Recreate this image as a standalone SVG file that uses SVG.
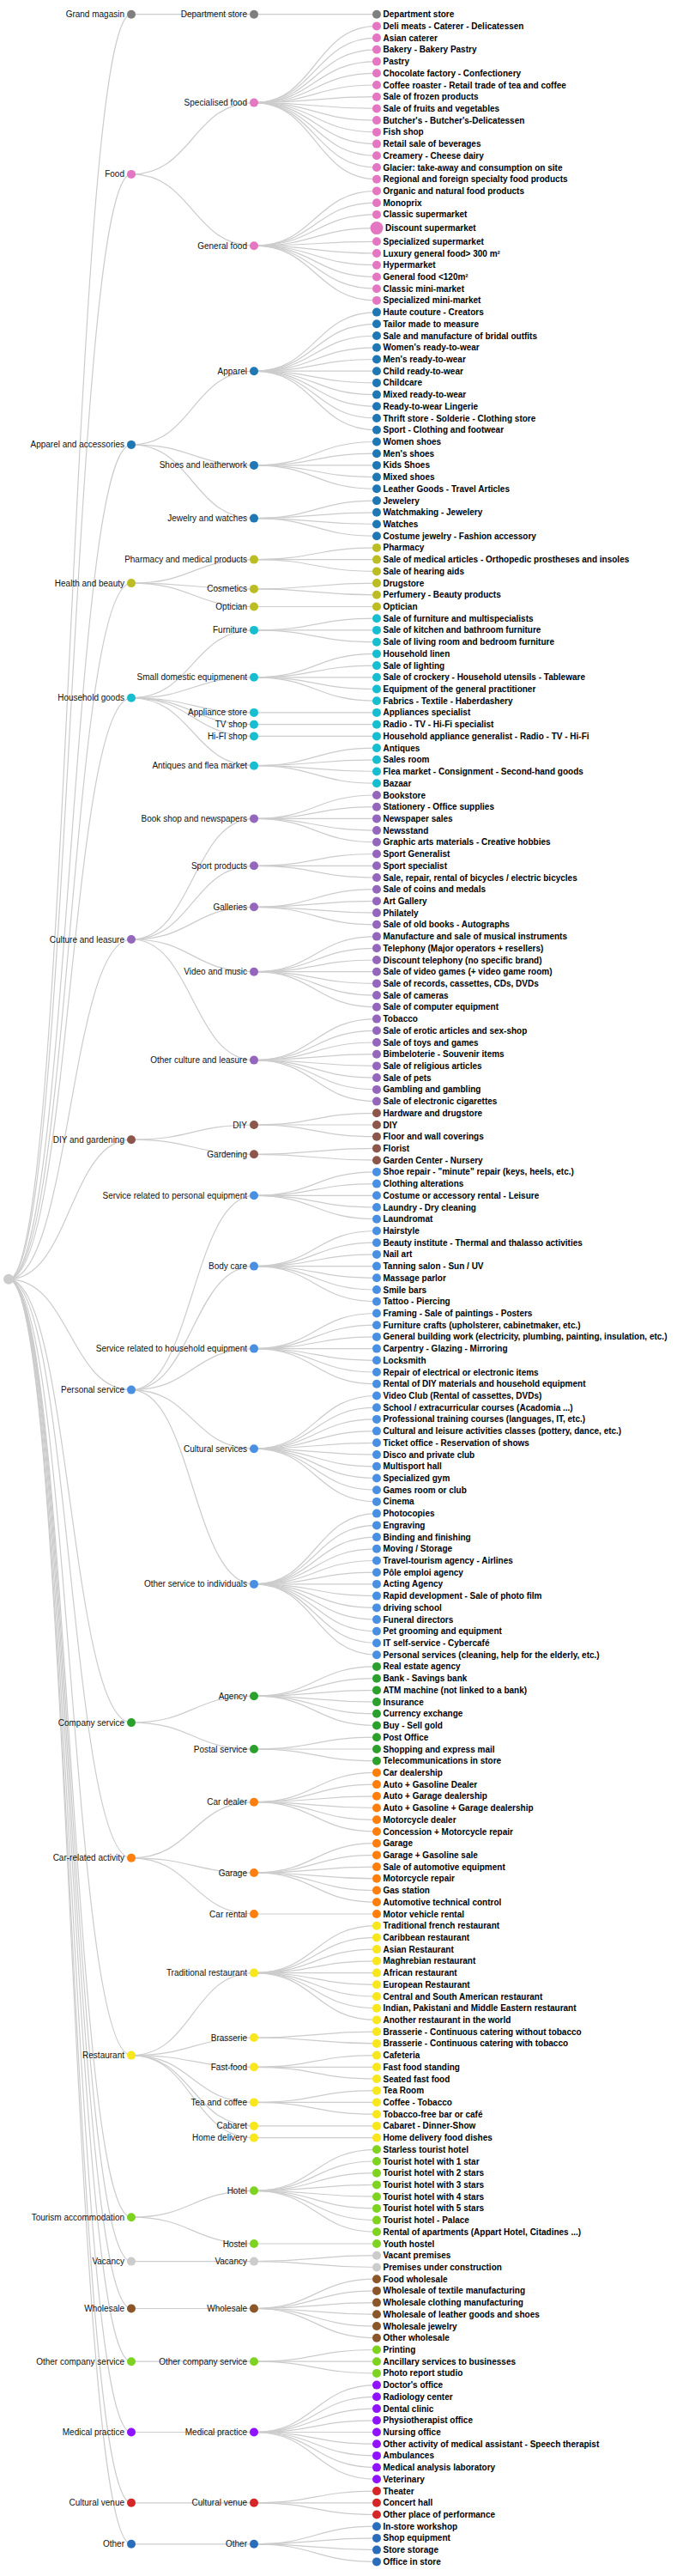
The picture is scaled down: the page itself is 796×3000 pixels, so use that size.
<svg xmlns="http://www.w3.org/2000/svg" width="796" height="3000" viewBox="0 0 796 3000">
<style>
.link{fill:none;stroke:#ccc;stroke-width:1.2}
text{font-family:"Liberation Sans",Arial,sans-serif;font-size:10px;fill:#111}
.in text{text-anchor:end}
.lf text{font-weight:bold;fill:#000}
.root circle{fill:#ccc}
.c0 circle{fill:#7f7f7f}.c1 circle{fill:#e377c2}.c2 circle{fill:#1f77b4}.c3 circle{fill:#bcbd22}
.c4 circle{fill:#17becf}.c5 circle{fill:#9467bd}.c6 circle{fill:#8c564b}.c7 circle{fill:#4a90e2}
.c8 circle{fill:#2ca02c}.c9 circle{fill:#ff7f0e}.c10 circle{fill:#f8e71c}.c11 circle{fill:#7ed321}
.c12 circle{fill:#ccc}.c13 circle{fill:#8b572a}.c14 circle{fill:#7ed321}.c15 circle{fill:#9013fe}
.c16 circle{fill:#d62728}.c17 circle{fill:#2a6ebb}
</style>
<g id="links">
<path class="link" d="M153,16.7C81.5,16.7 81.5,1489.8 10,1489.8"/>
<path class="link" d="M153,202.9C81.5,202.9 81.5,1489.8 10,1489.8"/>
<path class="link" d="M153,517.9C81.5,517.9 81.5,1489.8 10,1489.8"/>
<path class="link" d="M153,679.1C81.5,679.1 81.5,1489.8 10,1489.8"/>
<path class="link" d="M153,812.8C81.5,812.8 81.5,1489.8 10,1489.8"/>
<path class="link" d="M153,1094C81.5,1094 81.5,1489.8 10,1489.8"/>
<path class="link" d="M153,1327.2C81.5,1327.2 81.5,1489.8 10,1489.8"/>
<path class="link" d="M153,1618.6C81.5,1618.6 81.5,1489.8 10,1489.8"/>
<path class="link" d="M153,2006.1C81.5,2006.1 81.5,1489.8 10,1489.8"/>
<path class="link" d="M153,2163.8C81.5,2163.8 81.5,1489.8 10,1489.8"/>
<path class="link" d="M153,2393.6C81.5,2393.6 81.5,1489.8 10,1489.8"/>
<path class="link" d="M153,2582.2C81.5,2582.2 81.5,1489.8 10,1489.8"/>
<path class="link" d="M153,2633.6C81.5,2633.6 81.5,1489.8 10,1489.8"/>
<path class="link" d="M153,2688.5C81.5,2688.5 81.5,1489.8 10,1489.8"/>
<path class="link" d="M153,2750.2C81.5,2750.2 81.5,1489.8 10,1489.8"/>
<path class="link" d="M153,2832.5C81.5,2832.5 81.5,1489.8 10,1489.8"/>
<path class="link" d="M153,2914.8C81.5,2914.8 81.5,1489.8 10,1489.8"/>
<path class="link" d="M153,2962.8C81.5,2962.8 81.5,1489.8 10,1489.8"/>
<path class="link" d="M296,16.7C224.5,16.7 224.5,16.7 153,16.7"/>
<path class="link" d="M296,119.6C224.5,119.6 224.5,202.9 153,202.9"/>
<path class="link" d="M296,286.2C224.5,286.2 224.5,202.9 153,202.9"/>
<path class="link" d="M296,432.2C224.5,432.2 224.5,517.9 153,517.9"/>
<path class="link" d="M296,541.9C224.5,541.9 224.5,517.9 153,517.9"/>
<path class="link" d="M296,603.6C224.5,603.6 224.5,517.9 153,517.9"/>
<path class="link" d="M296,651.6C224.5,651.6 224.5,679.1 153,679.1"/>
<path class="link" d="M296,685.9C224.5,685.9 224.5,679.1 153,679.1"/>
<path class="link" d="M296,706.5C224.5,706.5 224.5,679.1 153,679.1"/>
<path class="link" d="M296,733.9C224.5,733.9 224.5,812.8 153,812.8"/>
<path class="link" d="M296,788.8C224.5,788.8 224.5,812.8 153,812.8"/>
<path class="link" d="M296,829.9C224.5,829.9 224.5,812.8 153,812.8"/>
<path class="link" d="M296,843.7C224.5,843.7 224.5,812.8 153,812.8"/>
<path class="link" d="M296,857.4C224.5,857.4 224.5,812.8 153,812.8"/>
<path class="link" d="M296,891.7C224.5,891.7 224.5,812.8 153,812.8"/>
<path class="link" d="M296,953.4C224.5,953.4 224.5,1094 153,1094"/>
<path class="link" d="M296,1008.3C224.5,1008.3 224.5,1094 153,1094"/>
<path class="link" d="M296,1056.3C224.5,1056.3 224.5,1094 153,1094"/>
<path class="link" d="M296,1131.7C224.5,1131.7 224.5,1094 153,1094"/>
<path class="link" d="M296,1234.6C224.5,1234.6 224.5,1094 153,1094"/>
<path class="link" d="M296,1310C224.5,1310 224.5,1327.2 153,1327.2"/>
<path class="link" d="M296,1344.3C224.5,1344.3 224.5,1327.2 153,1327.2"/>
<path class="link" d="M296,1392.3C224.5,1392.3 224.5,1618.6 153,1618.6"/>
<path class="link" d="M296,1474.6C224.5,1474.6 224.5,1618.6 153,1618.6"/>
<path class="link" d="M296,1570.6C224.5,1570.6 224.5,1618.6 153,1618.6"/>
<path class="link" d="M296,1687.2C224.5,1687.2 224.5,1618.6 153,1618.6"/>
<path class="link" d="M296,1844.9C224.5,1844.9 224.5,1618.6 153,1618.6"/>
<path class="link" d="M296,1975.2C224.5,1975.2 224.5,2006.1 153,2006.1"/>
<path class="link" d="M296,2037C224.5,2037 224.5,2006.1 153,2006.1"/>
<path class="link" d="M296,2098.7C224.5,2098.7 224.5,2163.8 153,2163.8"/>
<path class="link" d="M296,2181C224.5,2181 224.5,2163.8 153,2163.8"/>
<path class="link" d="M296,2229C224.5,2229 224.5,2163.8 153,2163.8"/>
<path class="link" d="M296,2297.6C224.5,2297.6 224.5,2393.6 153,2393.6"/>
<path class="link" d="M296,2373C224.5,2373 224.5,2393.6 153,2393.6"/>
<path class="link" d="M296,2407.3C224.5,2407.3 224.5,2393.6 153,2393.6"/>
<path class="link" d="M296,2448.4C224.5,2448.4 224.5,2393.6 153,2393.6"/>
<path class="link" d="M296,2475.9C224.5,2475.9 224.5,2393.6 153,2393.6"/>
<path class="link" d="M296,2489.6C224.5,2489.6 224.5,2393.6 153,2393.6"/>
<path class="link" d="M296,2551.3C224.5,2551.3 224.5,2582.2 153,2582.2"/>
<path class="link" d="M296,2613C224.5,2613 224.5,2582.2 153,2582.2"/>
<path class="link" d="M296,2633.6C224.5,2633.6 224.5,2633.6 153,2633.6"/>
<path class="link" d="M296,2688.5C224.5,2688.5 224.5,2688.5 153,2688.5"/>
<path class="link" d="M296,2750.2C224.5,2750.2 224.5,2750.2 153,2750.2"/>
<path class="link" d="M296,2832.5C224.5,2832.5 224.5,2832.5 153,2832.5"/>
<path class="link" d="M296,2914.8C224.5,2914.8 224.5,2914.8 153,2914.8"/>
<path class="link" d="M296,2962.8C224.5,2962.8 224.5,2962.8 153,2962.8"/>
<path class="link" d="M439,16.7C367.5,16.7 367.5,16.7 296,16.7"/>
<path class="link" d="M439,30.4C367.5,30.4 367.5,119.6 296,119.6"/>
<path class="link" d="M439,44.1C367.5,44.1 367.5,119.6 296,119.6"/>
<path class="link" d="M439,57.8C367.5,57.8 367.5,119.6 296,119.6"/>
<path class="link" d="M439,71.6C367.5,71.6 367.5,119.6 296,119.6"/>
<path class="link" d="M439,85.3C367.5,85.3 367.5,119.6 296,119.6"/>
<path class="link" d="M439,99C367.5,99 367.5,119.6 296,119.6"/>
<path class="link" d="M439,112.7C367.5,112.7 367.5,119.6 296,119.6"/>
<path class="link" d="M439,126.4C367.5,126.4 367.5,119.6 296,119.6"/>
<path class="link" d="M439,140.1C367.5,140.1 367.5,119.6 296,119.6"/>
<path class="link" d="M439,153.9C367.5,153.9 367.5,119.6 296,119.6"/>
<path class="link" d="M439,167.6C367.5,167.6 367.5,119.6 296,119.6"/>
<path class="link" d="M439,181.3C367.5,181.3 367.5,119.6 296,119.6"/>
<path class="link" d="M439,195C367.5,195 367.5,119.6 296,119.6"/>
<path class="link" d="M439,208.7C367.5,208.7 367.5,119.6 296,119.6"/>
<path class="link" d="M439,222.4C367.5,222.4 367.5,286.2 296,286.2"/>
<path class="link" d="M439,236.2C367.5,236.2 367.5,286.2 296,286.2"/>
<path class="link" d="M439,249.9C367.5,249.9 367.5,286.2 296,286.2"/>
<path class="link" d="M439,265.6C367.5,265.6 367.5,286.2 296,286.2"/>
<path class="link" d="M439,281.3C367.5,281.3 367.5,286.2 296,286.2"/>
<path class="link" d="M439,295C367.5,295 367.5,286.2 296,286.2"/>
<path class="link" d="M439,308.7C367.5,308.7 367.5,286.2 296,286.2"/>
<path class="link" d="M439,322.5C367.5,322.5 367.5,286.2 296,286.2"/>
<path class="link" d="M439,336.2C367.5,336.2 367.5,286.2 296,286.2"/>
<path class="link" d="M439,349.9C367.5,349.9 367.5,286.2 296,286.2"/>
<path class="link" d="M439,363.6C367.5,363.6 367.5,432.2 296,432.2"/>
<path class="link" d="M439,377.3C367.5,377.3 367.5,432.2 296,432.2"/>
<path class="link" d="M439,391C367.5,391 367.5,432.2 296,432.2"/>
<path class="link" d="M439,404.8C367.5,404.8 367.5,432.2 296,432.2"/>
<path class="link" d="M439,418.5C367.5,418.5 367.5,432.2 296,432.2"/>
<path class="link" d="M439,432.2C367.5,432.2 367.5,432.2 296,432.2"/>
<path class="link" d="M439,445.9C367.5,445.9 367.5,432.2 296,432.2"/>
<path class="link" d="M439,459.6C367.5,459.6 367.5,432.2 296,432.2"/>
<path class="link" d="M439,473.3C367.5,473.3 367.5,432.2 296,432.2"/>
<path class="link" d="M439,487C367.5,487 367.5,432.2 296,432.2"/>
<path class="link" d="M439,500.8C367.5,500.8 367.5,432.2 296,432.2"/>
<path class="link" d="M439,514.5C367.5,514.5 367.5,541.9 296,541.9"/>
<path class="link" d="M439,528.2C367.5,528.2 367.5,541.9 296,541.9"/>
<path class="link" d="M439,541.9C367.5,541.9 367.5,541.9 296,541.9"/>
<path class="link" d="M439,555.6C367.5,555.6 367.5,541.9 296,541.9"/>
<path class="link" d="M439,569.3C367.5,569.3 367.5,541.9 296,541.9"/>
<path class="link" d="M439,583.1C367.5,583.1 367.5,603.6 296,603.6"/>
<path class="link" d="M439,596.8C367.5,596.8 367.5,603.6 296,603.6"/>
<path class="link" d="M439,610.5C367.5,610.5 367.5,603.6 296,603.6"/>
<path class="link" d="M439,624.2C367.5,624.2 367.5,603.6 296,603.6"/>
<path class="link" d="M439,637.9C367.5,637.9 367.5,651.6 296,651.6"/>
<path class="link" d="M439,651.6C367.5,651.6 367.5,651.6 296,651.6"/>
<path class="link" d="M439,665.4C367.5,665.4 367.5,651.6 296,651.6"/>
<path class="link" d="M439,679.1C367.5,679.1 367.5,685.9 296,685.9"/>
<path class="link" d="M439,692.8C367.5,692.8 367.5,685.9 296,685.9"/>
<path class="link" d="M439,706.5C367.5,706.5 367.5,706.5 296,706.5"/>
<path class="link" d="M439,720.2C367.5,720.2 367.5,733.9 296,733.9"/>
<path class="link" d="M439,733.9C367.5,733.9 367.5,733.9 296,733.9"/>
<path class="link" d="M439,747.7C367.5,747.7 367.5,733.9 296,733.9"/>
<path class="link" d="M439,761.4C367.5,761.4 367.5,788.8 296,788.8"/>
<path class="link" d="M439,775.1C367.5,775.1 367.5,788.8 296,788.8"/>
<path class="link" d="M439,788.8C367.5,788.8 367.5,788.8 296,788.8"/>
<path class="link" d="M439,802.5C367.5,802.5 367.5,788.8 296,788.8"/>
<path class="link" d="M439,816.2C367.5,816.2 367.5,788.8 296,788.8"/>
<path class="link" d="M439,829.9C367.5,829.9 367.5,829.9 296,829.9"/>
<path class="link" d="M439,843.7C367.5,843.7 367.5,843.7 296,843.7"/>
<path class="link" d="M439,857.4C367.5,857.4 367.5,857.4 296,857.4"/>
<path class="link" d="M439,871.1C367.5,871.1 367.5,891.7 296,891.7"/>
<path class="link" d="M439,884.8C367.5,884.8 367.5,891.7 296,891.7"/>
<path class="link" d="M439,898.5C367.5,898.5 367.5,891.7 296,891.7"/>
<path class="link" d="M439,912.2C367.5,912.2 367.5,891.7 296,891.7"/>
<path class="link" d="M439,926C367.5,926 367.5,953.4 296,953.4"/>
<path class="link" d="M439,939.7C367.5,939.7 367.5,953.4 296,953.4"/>
<path class="link" d="M439,953.4C367.5,953.4 367.5,953.4 296,953.4"/>
<path class="link" d="M439,967.1C367.5,967.1 367.5,953.4 296,953.4"/>
<path class="link" d="M439,980.8C367.5,980.8 367.5,953.4 296,953.4"/>
<path class="link" d="M439,994.5C367.5,994.5 367.5,1008.3 296,1008.3"/>
<path class="link" d="M439,1008.3C367.5,1008.3 367.5,1008.3 296,1008.3"/>
<path class="link" d="M439,1022C367.5,1022 367.5,1008.3 296,1008.3"/>
<path class="link" d="M439,1035.7C367.5,1035.7 367.5,1056.3 296,1056.3"/>
<path class="link" d="M439,1049.4C367.5,1049.4 367.5,1056.3 296,1056.3"/>
<path class="link" d="M439,1063.1C367.5,1063.1 367.5,1056.3 296,1056.3"/>
<path class="link" d="M439,1076.8C367.5,1076.8 367.5,1056.3 296,1056.3"/>
<path class="link" d="M439,1090.6C367.5,1090.6 367.5,1131.7 296,1131.7"/>
<path class="link" d="M439,1104.3C367.5,1104.3 367.5,1131.7 296,1131.7"/>
<path class="link" d="M439,1118C367.5,1118 367.5,1131.7 296,1131.7"/>
<path class="link" d="M439,1131.7C367.5,1131.7 367.5,1131.7 296,1131.7"/>
<path class="link" d="M439,1145.4C367.5,1145.4 367.5,1131.7 296,1131.7"/>
<path class="link" d="M439,1159.1C367.5,1159.1 367.5,1131.7 296,1131.7"/>
<path class="link" d="M439,1172.8C367.5,1172.8 367.5,1131.7 296,1131.7"/>
<path class="link" d="M439,1186.6C367.5,1186.6 367.5,1234.6 296,1234.6"/>
<path class="link" d="M439,1200.3C367.5,1200.3 367.5,1234.6 296,1234.6"/>
<path class="link" d="M439,1214C367.5,1214 367.5,1234.6 296,1234.6"/>
<path class="link" d="M439,1227.7C367.5,1227.7 367.5,1234.6 296,1234.6"/>
<path class="link" d="M439,1241.4C367.5,1241.4 367.5,1234.6 296,1234.6"/>
<path class="link" d="M439,1255.1C367.5,1255.1 367.5,1234.6 296,1234.6"/>
<path class="link" d="M439,1268.9C367.5,1268.9 367.5,1234.6 296,1234.6"/>
<path class="link" d="M439,1282.6C367.5,1282.6 367.5,1234.6 296,1234.6"/>
<path class="link" d="M439,1296.3C367.5,1296.3 367.5,1310 296,1310"/>
<path class="link" d="M439,1310C367.5,1310 367.5,1310 296,1310"/>
<path class="link" d="M439,1323.7C367.5,1323.7 367.5,1310 296,1310"/>
<path class="link" d="M439,1337.4C367.5,1337.4 367.5,1344.3 296,1344.3"/>
<path class="link" d="M439,1351.2C367.5,1351.2 367.5,1344.3 296,1344.3"/>
<path class="link" d="M439,1364.9C367.5,1364.9 367.5,1392.3 296,1392.3"/>
<path class="link" d="M439,1378.6C367.5,1378.6 367.5,1392.3 296,1392.3"/>
<path class="link" d="M439,1392.3C367.5,1392.3 367.5,1392.3 296,1392.3"/>
<path class="link" d="M439,1406C367.5,1406 367.5,1392.3 296,1392.3"/>
<path class="link" d="M439,1419.7C367.5,1419.7 367.5,1392.3 296,1392.3"/>
<path class="link" d="M439,1433.5C367.5,1433.5 367.5,1474.6 296,1474.6"/>
<path class="link" d="M439,1447.2C367.5,1447.2 367.5,1474.6 296,1474.6"/>
<path class="link" d="M439,1460.9C367.5,1460.9 367.5,1474.6 296,1474.6"/>
<path class="link" d="M439,1474.6C367.5,1474.6 367.5,1474.6 296,1474.6"/>
<path class="link" d="M439,1488.3C367.5,1488.3 367.5,1474.6 296,1474.6"/>
<path class="link" d="M439,1502C367.5,1502 367.5,1474.6 296,1474.6"/>
<path class="link" d="M439,1515.7C367.5,1515.7 367.5,1474.6 296,1474.6"/>
<path class="link" d="M439,1529.5C367.5,1529.5 367.5,1570.6 296,1570.6"/>
<path class="link" d="M439,1543.2C367.5,1543.2 367.5,1570.6 296,1570.6"/>
<path class="link" d="M439,1556.9C367.5,1556.9 367.5,1570.6 296,1570.6"/>
<path class="link" d="M439,1570.6C367.5,1570.6 367.5,1570.6 296,1570.6"/>
<path class="link" d="M439,1584.3C367.5,1584.3 367.5,1570.6 296,1570.6"/>
<path class="link" d="M439,1598C367.5,1598 367.5,1570.6 296,1570.6"/>
<path class="link" d="M439,1611.8C367.5,1611.8 367.5,1570.6 296,1570.6"/>
<path class="link" d="M439,1625.5C367.5,1625.5 367.5,1687.2 296,1687.2"/>
<path class="link" d="M439,1639.2C367.5,1639.2 367.5,1687.2 296,1687.2"/>
<path class="link" d="M439,1652.9C367.5,1652.9 367.5,1687.2 296,1687.2"/>
<path class="link" d="M439,1666.6C367.5,1666.6 367.5,1687.2 296,1687.2"/>
<path class="link" d="M439,1680.3C367.5,1680.3 367.5,1687.2 296,1687.2"/>
<path class="link" d="M439,1694.1C367.5,1694.1 367.5,1687.2 296,1687.2"/>
<path class="link" d="M439,1707.8C367.5,1707.8 367.5,1687.2 296,1687.2"/>
<path class="link" d="M439,1721.5C367.5,1721.5 367.5,1687.2 296,1687.2"/>
<path class="link" d="M439,1735.2C367.5,1735.2 367.5,1687.2 296,1687.2"/>
<path class="link" d="M439,1748.9C367.5,1748.9 367.5,1687.2 296,1687.2"/>
<path class="link" d="M439,1762.6C367.5,1762.6 367.5,1844.9 296,1844.9"/>
<path class="link" d="M439,1776.4C367.5,1776.4 367.5,1844.9 296,1844.9"/>
<path class="link" d="M439,1790.1C367.5,1790.1 367.5,1844.9 296,1844.9"/>
<path class="link" d="M439,1803.8C367.5,1803.8 367.5,1844.9 296,1844.9"/>
<path class="link" d="M439,1817.5C367.5,1817.5 367.5,1844.9 296,1844.9"/>
<path class="link" d="M439,1831.2C367.5,1831.2 367.5,1844.9 296,1844.9"/>
<path class="link" d="M439,1844.9C367.5,1844.9 367.5,1844.9 296,1844.9"/>
<path class="link" d="M439,1858.6C367.5,1858.6 367.5,1844.9 296,1844.9"/>
<path class="link" d="M439,1872.4C367.5,1872.4 367.5,1844.9 296,1844.9"/>
<path class="link" d="M439,1886.1C367.5,1886.1 367.5,1844.9 296,1844.9"/>
<path class="link" d="M439,1899.8C367.5,1899.8 367.5,1844.9 296,1844.9"/>
<path class="link" d="M439,1913.5C367.5,1913.5 367.5,1844.9 296,1844.9"/>
<path class="link" d="M439,1927.2C367.5,1927.2 367.5,1844.9 296,1844.9"/>
<path class="link" d="M439,1940.9C367.5,1940.9 367.5,1975.2 296,1975.2"/>
<path class="link" d="M439,1954.7C367.5,1954.7 367.5,1975.2 296,1975.2"/>
<path class="link" d="M439,1968.4C367.5,1968.4 367.5,1975.2 296,1975.2"/>
<path class="link" d="M439,1982.1C367.5,1982.1 367.5,1975.2 296,1975.2"/>
<path class="link" d="M439,1995.8C367.5,1995.8 367.5,1975.2 296,1975.2"/>
<path class="link" d="M439,2009.5C367.5,2009.5 367.5,1975.2 296,1975.2"/>
<path class="link" d="M439,2023.2C367.5,2023.2 367.5,2037 296,2037"/>
<path class="link" d="M439,2037C367.5,2037 367.5,2037 296,2037"/>
<path class="link" d="M439,2050.7C367.5,2050.7 367.5,2037 296,2037"/>
<path class="link" d="M439,2064.4C367.5,2064.4 367.5,2098.7 296,2098.7"/>
<path class="link" d="M439,2078.1C367.5,2078.1 367.5,2098.7 296,2098.7"/>
<path class="link" d="M439,2091.8C367.5,2091.8 367.5,2098.7 296,2098.7"/>
<path class="link" d="M439,2105.5C367.5,2105.5 367.5,2098.7 296,2098.7"/>
<path class="link" d="M439,2119.3C367.5,2119.3 367.5,2098.7 296,2098.7"/>
<path class="link" d="M439,2133C367.5,2133 367.5,2098.7 296,2098.7"/>
<path class="link" d="M439,2146.7C367.5,2146.7 367.5,2181 296,2181"/>
<path class="link" d="M439,2160.4C367.5,2160.4 367.5,2181 296,2181"/>
<path class="link" d="M439,2174.1C367.5,2174.1 367.5,2181 296,2181"/>
<path class="link" d="M439,2187.8C367.5,2187.8 367.5,2181 296,2181"/>
<path class="link" d="M439,2201.5C367.5,2201.5 367.5,2181 296,2181"/>
<path class="link" d="M439,2215.3C367.5,2215.3 367.5,2181 296,2181"/>
<path class="link" d="M439,2229C367.5,2229 367.5,2229 296,2229"/>
<path class="link" d="M439,2242.7C367.5,2242.7 367.5,2297.6 296,2297.6"/>
<path class="link" d="M439,2256.4C367.5,2256.4 367.5,2297.6 296,2297.6"/>
<path class="link" d="M439,2270.1C367.5,2270.1 367.5,2297.6 296,2297.6"/>
<path class="link" d="M439,2283.8C367.5,2283.8 367.5,2297.6 296,2297.6"/>
<path class="link" d="M439,2297.6C367.5,2297.6 367.5,2297.6 296,2297.6"/>
<path class="link" d="M439,2311.3C367.5,2311.3 367.5,2297.6 296,2297.6"/>
<path class="link" d="M439,2325C367.5,2325 367.5,2297.6 296,2297.6"/>
<path class="link" d="M439,2338.7C367.5,2338.7 367.5,2297.6 296,2297.6"/>
<path class="link" d="M439,2352.4C367.5,2352.4 367.5,2297.6 296,2297.6"/>
<path class="link" d="M439,2366.1C367.5,2366.1 367.5,2373 296,2373"/>
<path class="link" d="M439,2379.9C367.5,2379.9 367.5,2373 296,2373"/>
<path class="link" d="M439,2393.6C367.5,2393.6 367.5,2407.3 296,2407.3"/>
<path class="link" d="M439,2407.3C367.5,2407.3 367.5,2407.3 296,2407.3"/>
<path class="link" d="M439,2421C367.5,2421 367.5,2407.3 296,2407.3"/>
<path class="link" d="M439,2434.7C367.5,2434.7 367.5,2448.4 296,2448.4"/>
<path class="link" d="M439,2448.4C367.5,2448.4 367.5,2448.4 296,2448.4"/>
<path class="link" d="M439,2462.2C367.5,2462.2 367.5,2448.4 296,2448.4"/>
<path class="link" d="M439,2475.9C367.5,2475.9 367.5,2475.9 296,2475.9"/>
<path class="link" d="M439,2489.6C367.5,2489.6 367.5,2489.6 296,2489.6"/>
<path class="link" d="M439,2503.3C367.5,2503.3 367.5,2551.3 296,2551.3"/>
<path class="link" d="M439,2517C367.5,2517 367.5,2551.3 296,2551.3"/>
<path class="link" d="M439,2530.7C367.5,2530.7 367.5,2551.3 296,2551.3"/>
<path class="link" d="M439,2544.4C367.5,2544.4 367.5,2551.3 296,2551.3"/>
<path class="link" d="M439,2558.2C367.5,2558.2 367.5,2551.3 296,2551.3"/>
<path class="link" d="M439,2571.9C367.5,2571.9 367.5,2551.3 296,2551.3"/>
<path class="link" d="M439,2585.6C367.5,2585.6 367.5,2551.3 296,2551.3"/>
<path class="link" d="M439,2599.3C367.5,2599.3 367.5,2551.3 296,2551.3"/>
<path class="link" d="M439,2613C367.5,2613 367.5,2613 296,2613"/>
<path class="link" d="M439,2626.7C367.5,2626.7 367.5,2633.6 296,2633.6"/>
<path class="link" d="M439,2640.5C367.5,2640.5 367.5,2633.6 296,2633.6"/>
<path class="link" d="M439,2654.2C367.5,2654.2 367.5,2688.5 296,2688.5"/>
<path class="link" d="M439,2667.9C367.5,2667.9 367.5,2688.5 296,2688.5"/>
<path class="link" d="M439,2681.6C367.5,2681.6 367.5,2688.5 296,2688.5"/>
<path class="link" d="M439,2695.3C367.5,2695.3 367.5,2688.5 296,2688.5"/>
<path class="link" d="M439,2709C367.5,2709 367.5,2688.5 296,2688.5"/>
<path class="link" d="M439,2722.8C367.5,2722.8 367.5,2688.5 296,2688.5"/>
<path class="link" d="M439,2736.5C367.5,2736.5 367.5,2750.2 296,2750.2"/>
<path class="link" d="M439,2750.2C367.5,2750.2 367.5,2750.2 296,2750.2"/>
<path class="link" d="M439,2763.9C367.5,2763.9 367.5,2750.2 296,2750.2"/>
<path class="link" d="M439,2777.6C367.5,2777.6 367.5,2832.5 296,2832.5"/>
<path class="link" d="M439,2791.3C367.5,2791.3 367.5,2832.5 296,2832.5"/>
<path class="link" d="M439,2805.1C367.5,2805.1 367.5,2832.5 296,2832.5"/>
<path class="link" d="M439,2818.8C367.5,2818.8 367.5,2832.5 296,2832.5"/>
<path class="link" d="M439,2832.5C367.5,2832.5 367.5,2832.5 296,2832.5"/>
<path class="link" d="M439,2846.2C367.5,2846.2 367.5,2832.5 296,2832.5"/>
<path class="link" d="M439,2859.9C367.5,2859.9 367.5,2832.5 296,2832.5"/>
<path class="link" d="M439,2873.6C367.5,2873.6 367.5,2832.5 296,2832.5"/>
<path class="link" d="M439,2887.3C367.5,2887.3 367.5,2832.5 296,2832.5"/>
<path class="link" d="M439,2901.1C367.5,2901.1 367.5,2914.8 296,2914.8"/>
<path class="link" d="M439,2914.8C367.5,2914.8 367.5,2914.8 296,2914.8"/>
<path class="link" d="M439,2928.5C367.5,2928.5 367.5,2914.8 296,2914.8"/>
<path class="link" d="M439,2942.2C367.5,2942.2 367.5,2962.8 296,2962.8"/>
<path class="link" d="M439,2955.9C367.5,2955.9 367.5,2962.8 296,2962.8"/>
<path class="link" d="M439,2969.6C367.5,2969.6 367.5,2962.8 296,2962.8"/>
<path class="link" d="M439,2983.4C367.5,2983.4 367.5,2962.8 296,2962.8"/>
</g>
<g id="nodes">
<g id="n-root" class="root" transform="translate(10,1489.8)"><circle r="6"/></g>
<g id="n1-grand-magasin" class="in c0" transform="translate(153,16.7)"><circle r="5"/><text x="-8" dy=".35em">Grand magasin</text></g>
<g id="n1-food" class="in c1" transform="translate(153,202.9)"><circle r="5"/><text x="-8" dy=".35em">Food</text></g>
<g id="n1-apparel-acc" class="in c2" transform="translate(153,517.9)"><circle r="5"/><text x="-8" dy=".35em">Apparel and accessories</text></g>
<g id="n1-health" class="in c3" transform="translate(153,679.1)"><circle r="5"/><text x="-8" dy=".35em">Health and beauty</text></g>
<g id="n1-household" class="in c4" transform="translate(153,812.8)"><circle r="5"/><text x="-8" dy=".35em">Household goods</text></g>
<g id="n1-culture" class="in c5" transform="translate(153,1094)"><circle r="5"/><text x="-8" dy=".35em">Culture and leasure</text></g>
<g id="n1-diy" class="in c6" transform="translate(153,1327.2)"><circle r="5"/><text x="-8" dy=".35em">DIY and gardening</text></g>
<g id="n1-personal" class="in c7" transform="translate(153,1618.6)"><circle r="5"/><text x="-8" dy=".35em">Personal service</text></g>
<g id="n1-company" class="in c8" transform="translate(153,2006.1)"><circle r="5"/><text x="-8" dy=".35em">Company service</text></g>
<g id="n1-car" class="in c9" transform="translate(153,2163.8)"><circle r="5"/><text x="-8" dy=".35em">Car-related activity</text></g>
<g id="n1-restaurant" class="in c10" transform="translate(153,2393.6)"><circle r="5"/><text x="-8" dy=".35em">Restaurant</text></g>
<g id="n1-tourism" class="in c11" transform="translate(153,2582.2)"><circle r="5"/><text x="-8" dy=".35em">Tourism accommodation</text></g>
<g id="n1-vacancy" class="in c12" transform="translate(153,2633.6)"><circle r="5"/><text x="-8" dy=".35em">Vacancy</text></g>
<g id="n1-wholesale" class="in c13" transform="translate(153,2688.5)"><circle r="5"/><text x="-8" dy=".35em">Wholesale</text></g>
<g id="n1-other-company" class="in c14" transform="translate(153,2750.2)"><circle r="5"/><text x="-8" dy=".35em">Other company service</text></g>
<g id="n1-medical" class="in c15" transform="translate(153,2832.5)"><circle r="5"/><text x="-8" dy=".35em">Medical practice</text></g>
<g id="n1-cultural-venue" class="in c16" transform="translate(153,2914.8)"><circle r="5"/><text x="-8" dy=".35em">Cultural venue</text></g>
<g id="n1-other" class="in c17" transform="translate(153,2962.8)"><circle r="5"/><text x="-8" dy=".35em">Other</text></g>
<g id="n2-department-store" class="in c0" transform="translate(296,16.7)"><circle r="5"/><text x="-8" dy=".35em">Department store</text></g>
<g id="n2-specialised-food" class="in c1" transform="translate(296,119.6)"><circle r="5"/><text x="-8" dy=".35em">Specialised food</text></g>
<g id="n2-general-food" class="in c1" transform="translate(296,286.2)"><circle r="5"/><text x="-8" dy=".35em">General food</text></g>
<g id="n2-apparel" class="in c2" transform="translate(296,432.2)"><circle r="5"/><text x="-8" dy=".35em">Apparel</text></g>
<g id="n2-shoes" class="in c2" transform="translate(296,541.9)"><circle r="5"/><text x="-8" dy=".35em">Shoes and leatherwork</text></g>
<g id="n2-jewelry" class="in c2" transform="translate(296,603.6)"><circle r="5"/><text x="-8" dy=".35em">Jewelry and watches</text></g>
<g id="n2-pharmacy" class="in c3" transform="translate(296,651.6)"><circle r="5"/><text x="-8" dy=".35em">Pharmacy and medical products</text></g>
<g id="n2-cosmetics" class="in c3" transform="translate(296,685.9)"><circle r="5"/><text x="-8" dy=".35em">Cosmetics</text></g>
<g id="n2-optician" class="in c3" transform="translate(296,706.5)"><circle r="5"/><text x="-8" dy=".35em">Optician</text></g>
<g id="n2-furniture" class="in c4" transform="translate(296,733.9)"><circle r="5"/><text x="-8" dy=".35em">Furniture</text></g>
<g id="n2-small-domestic" class="in c4" transform="translate(296,788.8)"><circle r="5"/><text x="-8" dy=".35em">Small domestic equipmenent</text></g>
<g id="n2-appliance" class="in c4" transform="translate(296,829.9)"><circle r="5"/><text x="-8" dy=".35em">Appliance store</text></g>
<g id="n2-tv" class="in c4" transform="translate(296,843.7)"><circle r="5"/><text x="-8" dy=".35em">TV shop</text></g>
<g id="n2-hifi" class="in c4" transform="translate(296,857.4)"><circle r="5"/><text x="-8" dy=".35em">Hi-FI shop</text></g>
<g id="n2-antiques" class="in c4" transform="translate(296,891.7)"><circle r="5"/><text x="-8" dy=".35em">Antiques and flea market</text></g>
<g id="n2-bookshop" class="in c5" transform="translate(296,953.4)"><circle r="5"/><text x="-8" dy=".35em">Book shop and newspapers</text></g>
<g id="n2-sport" class="in c5" transform="translate(296,1008.3)"><circle r="5"/><text x="-8" dy=".35em">Sport products</text></g>
<g id="n2-galleries" class="in c5" transform="translate(296,1056.3)"><circle r="5"/><text x="-8" dy=".35em">Galleries</text></g>
<g id="n2-video" class="in c5" transform="translate(296,1131.7)"><circle r="5"/><text x="-8" dy=".35em">Video and music</text></g>
<g id="n2-other-culture" class="in c5" transform="translate(296,1234.6)"><circle r="5"/><text x="-8" dy=".35em">Other culture and leasure</text></g>
<g id="n2-diy" class="in c6" transform="translate(296,1310)"><circle r="5"/><text x="-8" dy=".35em">DIY</text></g>
<g id="n2-gardening" class="in c6" transform="translate(296,1344.3)"><circle r="5"/><text x="-8" dy=".35em">Gardening</text></g>
<g id="n2-personal-equip" class="in c7" transform="translate(296,1392.3)"><circle r="5"/><text x="-8" dy=".35em">Service related to personal equipment</text></g>
<g id="n2-body-care" class="in c7" transform="translate(296,1474.6)"><circle r="5"/><text x="-8" dy=".35em">Body care</text></g>
<g id="n2-household-equip" class="in c7" transform="translate(296,1570.6)"><circle r="5"/><text x="-8" dy=".35em">Service related to household equipment</text></g>
<g id="n2-cultural-services" class="in c7" transform="translate(296,1687.2)"><circle r="5"/><text x="-8" dy=".35em">Cultural services</text></g>
<g id="n2-other-service" class="in c7" transform="translate(296,1844.9)"><circle r="5"/><text x="-8" dy=".35em">Other service to individuals</text></g>
<g id="n2-agency" class="in c8" transform="translate(296,1975.2)"><circle r="5"/><text x="-8" dy=".35em">Agency</text></g>
<g id="n2-postal" class="in c8" transform="translate(296,2037)"><circle r="5"/><text x="-8" dy=".35em">Postal service</text></g>
<g id="n2-car-dealer" class="in c9" transform="translate(296,2098.7)"><circle r="5"/><text x="-8" dy=".35em">Car dealer</text></g>
<g id="n2-garage" class="in c9" transform="translate(296,2181)"><circle r="5"/><text x="-8" dy=".35em">Garage</text></g>
<g id="n2-car-rental" class="in c9" transform="translate(296,2229)"><circle r="5"/><text x="-8" dy=".35em">Car rental</text></g>
<g id="n2-traditional" class="in c10" transform="translate(296,2297.6)"><circle r="5"/><text x="-8" dy=".35em">Traditional restaurant</text></g>
<g id="n2-brasserie" class="in c10" transform="translate(296,2373)"><circle r="5"/><text x="-8" dy=".35em">Brasserie</text></g>
<g id="n2-fast-food" class="in c10" transform="translate(296,2407.3)"><circle r="5"/><text x="-8" dy=".35em">Fast-food</text></g>
<g id="n2-tea" class="in c10" transform="translate(296,2448.4)"><circle r="5"/><text x="-8" dy=".35em">Tea and coffee</text></g>
<g id="n2-cabaret" class="in c10" transform="translate(296,2475.9)"><circle r="5"/><text x="-8" dy=".35em">Cabaret</text></g>
<g id="n2-home-delivery" class="in c10" transform="translate(296,2489.6)"><circle r="5"/><text x="-8" dy=".35em">Home delivery</text></g>
<g id="n2-hotel" class="in c11" transform="translate(296,2551.3)"><circle r="5"/><text x="-8" dy=".35em">Hotel</text></g>
<g id="n2-hostel" class="in c11" transform="translate(296,2613)"><circle r="5"/><text x="-8" dy=".35em">Hostel</text></g>
<g id="n2-vacancy" class="in c12" transform="translate(296,2633.6)"><circle r="5"/><text x="-8" dy=".35em">Vacancy</text></g>
<g id="n2-wholesale" class="in c13" transform="translate(296,2688.5)"><circle r="5"/><text x="-8" dy=".35em">Wholesale</text></g>
<g id="n2-other-company" class="in c14" transform="translate(296,2750.2)"><circle r="5"/><text x="-8" dy=".35em">Other company service</text></g>
<g id="n2-medical" class="in c15" transform="translate(296,2832.5)"><circle r="5"/><text x="-8" dy=".35em">Medical practice</text></g>
<g id="n2-cultural-venue" class="in c16" transform="translate(296,2914.8)"><circle r="5"/><text x="-8" dy=".35em">Cultural venue</text></g>
<g id="n2-other" class="in c17" transform="translate(296,2962.8)"><circle r="5"/><text x="-8" dy=".35em">Other</text></g>
<g id="leaf-0" class="lf c0" transform="translate(439,16.7)"><circle r="5"/><text x="7.5" dy=".35em">Department store</text></g>
<g id="leaf-1" class="lf c1" transform="translate(439,30.4)"><circle r="5"/><text x="7.5" dy=".35em">Deli meats - Caterer - Delicatessen</text></g>
<g id="leaf-2" class="lf c1" transform="translate(439,44.1)"><circle r="5"/><text x="7.5" dy=".35em">Asian caterer</text></g>
<g id="leaf-3" class="lf c1" transform="translate(439,57.8)"><circle r="5"/><text x="7.5" dy=".35em">Bakery - Bakery Pastry</text></g>
<g id="leaf-4" class="lf c1" transform="translate(439,71.6)"><circle r="5"/><text x="7.5" dy=".35em">Pastry</text></g>
<g id="leaf-5" class="lf c1" transform="translate(439,85.3)"><circle r="5"/><text x="7.5" dy=".35em">Chocolate factory - Confectionery</text></g>
<g id="leaf-6" class="lf c1" transform="translate(439,99)"><circle r="5"/><text x="7.5" dy=".35em">Coffee roaster - Retail trade of tea and coffee</text></g>
<g id="leaf-7" class="lf c1" transform="translate(439,112.7)"><circle r="5"/><text x="7.5" dy=".35em">Sale of frozen products</text></g>
<g id="leaf-8" class="lf c1" transform="translate(439,126.4)"><circle r="5"/><text x="7.5" dy=".35em">Sale of fruits and vegetables</text></g>
<g id="leaf-9" class="lf c1" transform="translate(439,140.1)"><circle r="5"/><text x="7.5" dy=".35em">Butcher's - Butcher's-Delicatessen</text></g>
<g id="leaf-10" class="lf c1" transform="translate(439,153.9)"><circle r="5"/><text x="7.5" dy=".35em">Fish shop</text></g>
<g id="leaf-11" class="lf c1" transform="translate(439,167.6)"><circle r="5"/><text x="7.5" dy=".35em">Retail sale of beverages</text></g>
<g id="leaf-12" class="lf c1" transform="translate(439,181.3)"><circle r="5"/><text x="7.5" dy=".35em">Creamery - Cheese dairy</text></g>
<g id="leaf-13" class="lf c1" transform="translate(439,195)"><circle r="5"/><text x="7.5" dy=".35em">Glacier: take-away and consumption on site</text></g>
<g id="leaf-14" class="lf c1" transform="translate(439,208.7)"><circle r="5"/><text x="7.5" dy=".35em">Regional and foreign specialty food products</text></g>
<g id="leaf-15" class="lf c1" transform="translate(439,222.4)"><circle r="5"/><text x="7.5" dy=".35em">Organic and natural food products</text></g>
<g id="leaf-16" class="lf c1" transform="translate(439,236.2)"><circle r="5"/><text x="7.5" dy=".35em">Monoprix</text></g>
<g id="leaf-17" class="lf c1" transform="translate(439,249.9)"><circle r="5"/><text x="7.5" dy=".35em">Classic supermarket</text></g>
<g id="leaf-18" class="lf c1" transform="translate(439,265.6)"><circle r="7.5"/><text x="10" dy=".35em">Discount supermarket</text></g>
<g id="leaf-19" class="lf c1" transform="translate(439,281.3)"><circle r="5"/><text x="7.5" dy=".35em">Specialized supermarket</text></g>
<g id="leaf-20" class="lf c1" transform="translate(439,295)"><circle r="5"/><text x="7.5" dy=".35em">Luxury general food&gt; 300 m²</text></g>
<g id="leaf-21" class="lf c1" transform="translate(439,308.7)"><circle r="5"/><text x="7.5" dy=".35em">Hypermarket</text></g>
<g id="leaf-22" class="lf c1" transform="translate(439,322.5)"><circle r="5"/><text x="7.5" dy=".35em">General food &lt;120m²</text></g>
<g id="leaf-23" class="lf c1" transform="translate(439,336.2)"><circle r="5"/><text x="7.5" dy=".35em">Classic mini-market</text></g>
<g id="leaf-24" class="lf c1" transform="translate(439,349.9)"><circle r="5"/><text x="7.5" dy=".35em">Specialized mini-market</text></g>
<g id="leaf-25" class="lf c2" transform="translate(439,363.6)"><circle r="5"/><text x="7.5" dy=".35em">Haute couture - Creators</text></g>
<g id="leaf-26" class="lf c2" transform="translate(439,377.3)"><circle r="5"/><text x="7.5" dy=".35em">Tailor made to measure</text></g>
<g id="leaf-27" class="lf c2" transform="translate(439,391)"><circle r="5"/><text x="7.5" dy=".35em">Sale and manufacture of bridal outfits</text></g>
<g id="leaf-28" class="lf c2" transform="translate(439,404.8)"><circle r="5"/><text x="7.5" dy=".35em">Women's ready-to-wear</text></g>
<g id="leaf-29" class="lf c2" transform="translate(439,418.5)"><circle r="5"/><text x="7.5" dy=".35em">Men's ready-to-wear</text></g>
<g id="leaf-30" class="lf c2" transform="translate(439,432.2)"><circle r="5"/><text x="7.5" dy=".35em">Child ready-to-wear</text></g>
<g id="leaf-31" class="lf c2" transform="translate(439,445.9)"><circle r="5"/><text x="7.5" dy=".35em">Childcare</text></g>
<g id="leaf-32" class="lf c2" transform="translate(439,459.6)"><circle r="5"/><text x="7.5" dy=".35em">Mixed ready-to-wear</text></g>
<g id="leaf-33" class="lf c2" transform="translate(439,473.3)"><circle r="5"/><text x="7.5" dy=".35em">Ready-to-wear Lingerie</text></g>
<g id="leaf-34" class="lf c2" transform="translate(439,487)"><circle r="5"/><text x="7.5" dy=".35em">Thrift store - Solderie - Clothing store</text></g>
<g id="leaf-35" class="lf c2" transform="translate(439,500.8)"><circle r="5"/><text x="7.5" dy=".35em">Sport - Clothing and footwear</text></g>
<g id="leaf-36" class="lf c2" transform="translate(439,514.5)"><circle r="5"/><text x="7.5" dy=".35em">Women shoes</text></g>
<g id="leaf-37" class="lf c2" transform="translate(439,528.2)"><circle r="5"/><text x="7.5" dy=".35em">Men's shoes</text></g>
<g id="leaf-38" class="lf c2" transform="translate(439,541.9)"><circle r="5"/><text x="7.5" dy=".35em">Kids Shoes</text></g>
<g id="leaf-39" class="lf c2" transform="translate(439,555.6)"><circle r="5"/><text x="7.5" dy=".35em">Mixed shoes</text></g>
<g id="leaf-40" class="lf c2" transform="translate(439,569.3)"><circle r="5"/><text x="7.5" dy=".35em">Leather Goods - Travel Articles</text></g>
<g id="leaf-41" class="lf c2" transform="translate(439,583.1)"><circle r="5"/><text x="7.5" dy=".35em">Jewelery</text></g>
<g id="leaf-42" class="lf c2" transform="translate(439,596.8)"><circle r="5"/><text x="7.5" dy=".35em">Watchmaking - Jewelery</text></g>
<g id="leaf-43" class="lf c2" transform="translate(439,610.5)"><circle r="5"/><text x="7.5" dy=".35em">Watches</text></g>
<g id="leaf-44" class="lf c2" transform="translate(439,624.2)"><circle r="5"/><text x="7.5" dy=".35em">Costume jewelry - Fashion accessory</text></g>
<g id="leaf-45" class="lf c3" transform="translate(439,637.9)"><circle r="5"/><text x="7.5" dy=".35em">Pharmacy</text></g>
<g id="leaf-46" class="lf c3" transform="translate(439,651.6)"><circle r="5"/><text x="7.5" dy=".35em">Sale of medical articles - Orthopedic prostheses and insoles</text></g>
<g id="leaf-47" class="lf c3" transform="translate(439,665.4)"><circle r="5"/><text x="7.5" dy=".35em">Sale of hearing aids</text></g>
<g id="leaf-48" class="lf c3" transform="translate(439,679.1)"><circle r="5"/><text x="7.5" dy=".35em">Drugstore</text></g>
<g id="leaf-49" class="lf c3" transform="translate(439,692.8)"><circle r="5"/><text x="7.5" dy=".35em">Perfumery - Beauty products</text></g>
<g id="leaf-50" class="lf c3" transform="translate(439,706.5)"><circle r="5"/><text x="7.5" dy=".35em">Optician</text></g>
<g id="leaf-51" class="lf c4" transform="translate(439,720.2)"><circle r="5"/><text x="7.5" dy=".35em">Sale of furniture and multispecialists</text></g>
<g id="leaf-52" class="lf c4" transform="translate(439,733.9)"><circle r="5"/><text x="7.5" dy=".35em">Sale of kitchen and bathroom furniture</text></g>
<g id="leaf-53" class="lf c4" transform="translate(439,747.7)"><circle r="5"/><text x="7.5" dy=".35em">Sale of living room and bedroom furniture</text></g>
<g id="leaf-54" class="lf c4" transform="translate(439,761.4)"><circle r="5"/><text x="7.5" dy=".35em">Household linen</text></g>
<g id="leaf-55" class="lf c4" transform="translate(439,775.1)"><circle r="5"/><text x="7.5" dy=".35em">Sale of lighting</text></g>
<g id="leaf-56" class="lf c4" transform="translate(439,788.8)"><circle r="5"/><text x="7.5" dy=".35em">Sale of crockery - Household utensils - Tableware</text></g>
<g id="leaf-57" class="lf c4" transform="translate(439,802.5)"><circle r="5"/><text x="7.5" dy=".35em">Equipment of the general practitioner</text></g>
<g id="leaf-58" class="lf c4" transform="translate(439,816.2)"><circle r="5"/><text x="7.5" dy=".35em">Fabrics - Textile - Haberdashery</text></g>
<g id="leaf-59" class="lf c4" transform="translate(439,829.9)"><circle r="5"/><text x="7.5" dy=".35em">Appliances specialist</text></g>
<g id="leaf-60" class="lf c4" transform="translate(439,843.7)"><circle r="5"/><text x="7.5" dy=".35em">Radio - TV - Hi-Fi specialist</text></g>
<g id="leaf-61" class="lf c4" transform="translate(439,857.4)"><circle r="5"/><text x="7.5" dy=".35em">Household appliance generalist - Radio - TV - Hi-Fi</text></g>
<g id="leaf-62" class="lf c4" transform="translate(439,871.1)"><circle r="5"/><text x="7.5" dy=".35em">Antiques</text></g>
<g id="leaf-63" class="lf c4" transform="translate(439,884.8)"><circle r="5"/><text x="7.5" dy=".35em">Sales room</text></g>
<g id="leaf-64" class="lf c4" transform="translate(439,898.5)"><circle r="5"/><text x="7.5" dy=".35em">Flea market - Consignment - Second-hand goods</text></g>
<g id="leaf-65" class="lf c4" transform="translate(439,912.2)"><circle r="5"/><text x="7.5" dy=".35em">Bazaar</text></g>
<g id="leaf-66" class="lf c5" transform="translate(439,926)"><circle r="5"/><text x="7.5" dy=".35em">Bookstore</text></g>
<g id="leaf-67" class="lf c5" transform="translate(439,939.7)"><circle r="5"/><text x="7.5" dy=".35em">Stationery - Office supplies</text></g>
<g id="leaf-68" class="lf c5" transform="translate(439,953.4)"><circle r="5"/><text x="7.5" dy=".35em">Newspaper sales</text></g>
<g id="leaf-69" class="lf c5" transform="translate(439,967.1)"><circle r="5"/><text x="7.5" dy=".35em">Newsstand</text></g>
<g id="leaf-70" class="lf c5" transform="translate(439,980.8)"><circle r="5"/><text x="7.5" dy=".35em">Graphic arts materials - Creative hobbies</text></g>
<g id="leaf-71" class="lf c5" transform="translate(439,994.5)"><circle r="5"/><text x="7.5" dy=".35em">Sport Generalist</text></g>
<g id="leaf-72" class="lf c5" transform="translate(439,1008.3)"><circle r="5"/><text x="7.5" dy=".35em">Sport specialist</text></g>
<g id="leaf-73" class="lf c5" transform="translate(439,1022)"><circle r="5"/><text x="7.5" dy=".35em">Sale, repair, rental of bicycles / electric bicycles</text></g>
<g id="leaf-74" class="lf c5" transform="translate(439,1035.7)"><circle r="5"/><text x="7.5" dy=".35em">Sale of coins and medals</text></g>
<g id="leaf-75" class="lf c5" transform="translate(439,1049.4)"><circle r="5"/><text x="7.5" dy=".35em">Art Gallery</text></g>
<g id="leaf-76" class="lf c5" transform="translate(439,1063.1)"><circle r="5"/><text x="7.5" dy=".35em">Philately</text></g>
<g id="leaf-77" class="lf c5" transform="translate(439,1076.8)"><circle r="5"/><text x="7.5" dy=".35em">Sale of old books - Autographs</text></g>
<g id="leaf-78" class="lf c5" transform="translate(439,1090.6)"><circle r="5"/><text x="7.5" dy=".35em">Manufacture and sale of musical instruments</text></g>
<g id="leaf-79" class="lf c5" transform="translate(439,1104.3)"><circle r="5"/><text x="7.5" dy=".35em">Telephony (Major operators + resellers)</text></g>
<g id="leaf-80" class="lf c5" transform="translate(439,1118)"><circle r="5"/><text x="7.5" dy=".35em">Discount telephony (no specific brand)</text></g>
<g id="leaf-81" class="lf c5" transform="translate(439,1131.7)"><circle r="5"/><text x="7.5" dy=".35em">Sale of video games (+ video game room)</text></g>
<g id="leaf-82" class="lf c5" transform="translate(439,1145.4)"><circle r="5"/><text x="7.5" dy=".35em">Sale of records, cassettes, CDs, DVDs</text></g>
<g id="leaf-83" class="lf c5" transform="translate(439,1159.1)"><circle r="5"/><text x="7.5" dy=".35em">Sale of cameras</text></g>
<g id="leaf-84" class="lf c5" transform="translate(439,1172.8)"><circle r="5"/><text x="7.5" dy=".35em">Sale of computer equipment</text></g>
<g id="leaf-85" class="lf c5" transform="translate(439,1186.6)"><circle r="5"/><text x="7.5" dy=".35em">Tobacco</text></g>
<g id="leaf-86" class="lf c5" transform="translate(439,1200.3)"><circle r="5"/><text x="7.5" dy=".35em">Sale of erotic articles and sex-shop</text></g>
<g id="leaf-87" class="lf c5" transform="translate(439,1214)"><circle r="5"/><text x="7.5" dy=".35em">Sale of toys and games</text></g>
<g id="leaf-88" class="lf c5" transform="translate(439,1227.7)"><circle r="5"/><text x="7.5" dy=".35em">Bimbeloterie - Souvenir items</text></g>
<g id="leaf-89" class="lf c5" transform="translate(439,1241.4)"><circle r="5"/><text x="7.5" dy=".35em">Sale of religious articles</text></g>
<g id="leaf-90" class="lf c5" transform="translate(439,1255.1)"><circle r="5"/><text x="7.5" dy=".35em">Sale of pets</text></g>
<g id="leaf-91" class="lf c5" transform="translate(439,1268.9)"><circle r="5"/><text x="7.5" dy=".35em">Gambling and gambling</text></g>
<g id="leaf-92" class="lf c5" transform="translate(439,1282.6)"><circle r="5"/><text x="7.5" dy=".35em">Sale of electronic cigarettes</text></g>
<g id="leaf-93" class="lf c6" transform="translate(439,1296.3)"><circle r="5"/><text x="7.5" dy=".35em">Hardware and drugstore</text></g>
<g id="leaf-94" class="lf c6" transform="translate(439,1310)"><circle r="5"/><text x="7.5" dy=".35em">DIY</text></g>
<g id="leaf-95" class="lf c6" transform="translate(439,1323.7)"><circle r="5"/><text x="7.5" dy=".35em">Floor and wall coverings</text></g>
<g id="leaf-96" class="lf c6" transform="translate(439,1337.4)"><circle r="5"/><text x="7.5" dy=".35em">Florist</text></g>
<g id="leaf-97" class="lf c6" transform="translate(439,1351.2)"><circle r="5"/><text x="7.5" dy=".35em">Garden Center - Nursery</text></g>
<g id="leaf-98" class="lf c7" transform="translate(439,1364.9)"><circle r="5"/><text x="7.5" dy=".35em">Shoe repair - "minute" repair (keys, heels, etc.)</text></g>
<g id="leaf-99" class="lf c7" transform="translate(439,1378.6)"><circle r="5"/><text x="7.5" dy=".35em">Clothing alterations</text></g>
<g id="leaf-100" class="lf c7" transform="translate(439,1392.3)"><circle r="5"/><text x="7.5" dy=".35em">Costume or accessory rental - Leisure</text></g>
<g id="leaf-101" class="lf c7" transform="translate(439,1406)"><circle r="5"/><text x="7.5" dy=".35em">Laundry - Dry cleaning</text></g>
<g id="leaf-102" class="lf c7" transform="translate(439,1419.7)"><circle r="5"/><text x="7.5" dy=".35em">Laundromat</text></g>
<g id="leaf-103" class="lf c7" transform="translate(439,1433.5)"><circle r="5"/><text x="7.5" dy=".35em">Hairstyle</text></g>
<g id="leaf-104" class="lf c7" transform="translate(439,1447.2)"><circle r="5"/><text x="7.5" dy=".35em">Beauty institute - Thermal and thalasso activities</text></g>
<g id="leaf-105" class="lf c7" transform="translate(439,1460.9)"><circle r="5"/><text x="7.5" dy=".35em">Nail art</text></g>
<g id="leaf-106" class="lf c7" transform="translate(439,1474.6)"><circle r="5"/><text x="7.5" dy=".35em">Tanning salon - Sun / UV</text></g>
<g id="leaf-107" class="lf c7" transform="translate(439,1488.3)"><circle r="5"/><text x="7.5" dy=".35em">Massage parlor</text></g>
<g id="leaf-108" class="lf c7" transform="translate(439,1502)"><circle r="5"/><text x="7.5" dy=".35em">Smile bars</text></g>
<g id="leaf-109" class="lf c7" transform="translate(439,1515.7)"><circle r="5"/><text x="7.5" dy=".35em">Tattoo - Piercing</text></g>
<g id="leaf-110" class="lf c7" transform="translate(439,1529.5)"><circle r="5"/><text x="7.5" dy=".35em">Framing - Sale of paintings - Posters</text></g>
<g id="leaf-111" class="lf c7" transform="translate(439,1543.2)"><circle r="5"/><text x="7.5" dy=".35em">Furniture crafts (upholsterer, cabinetmaker, etc.)</text></g>
<g id="leaf-112" class="lf c7" transform="translate(439,1556.9)"><circle r="5"/><text x="7.5" dy=".35em">General building work (electricity, plumbing, painting, insulation, etc.)</text></g>
<g id="leaf-113" class="lf c7" transform="translate(439,1570.6)"><circle r="5"/><text x="7.5" dy=".35em">Carpentry - Glazing - Mirroring</text></g>
<g id="leaf-114" class="lf c7" transform="translate(439,1584.3)"><circle r="5"/><text x="7.5" dy=".35em">Locksmith</text></g>
<g id="leaf-115" class="lf c7" transform="translate(439,1598)"><circle r="5"/><text x="7.5" dy=".35em">Repair of electrical or electronic items</text></g>
<g id="leaf-116" class="lf c7" transform="translate(439,1611.8)"><circle r="5"/><text x="7.5" dy=".35em">Rental of DIY materials and household equipment</text></g>
<g id="leaf-117" class="lf c7" transform="translate(439,1625.5)"><circle r="5"/><text x="7.5" dy=".35em">Video Club (Rental of cassettes, DVDs)</text></g>
<g id="leaf-118" class="lf c7" transform="translate(439,1639.2)"><circle r="5"/><text x="7.5" dy=".35em">School / extracurricular courses (Acadomia ...)</text></g>
<g id="leaf-119" class="lf c7" transform="translate(439,1652.9)"><circle r="5"/><text x="7.5" dy=".35em">Professional training courses (languages, IT, etc.)</text></g>
<g id="leaf-120" class="lf c7" transform="translate(439,1666.6)"><circle r="5"/><text x="7.5" dy=".35em">Cultural and leisure activities classes (pottery, dance, etc.)</text></g>
<g id="leaf-121" class="lf c7" transform="translate(439,1680.3)"><circle r="5"/><text x="7.5" dy=".35em">Ticket office - Reservation of shows</text></g>
<g id="leaf-122" class="lf c7" transform="translate(439,1694.1)"><circle r="5"/><text x="7.5" dy=".35em">Disco and private club</text></g>
<g id="leaf-123" class="lf c7" transform="translate(439,1707.8)"><circle r="5"/><text x="7.5" dy=".35em">Multisport hall</text></g>
<g id="leaf-124" class="lf c7" transform="translate(439,1721.5)"><circle r="5"/><text x="7.5" dy=".35em">Specialized gym</text></g>
<g id="leaf-125" class="lf c7" transform="translate(439,1735.2)"><circle r="5"/><text x="7.5" dy=".35em">Games room or club</text></g>
<g id="leaf-126" class="lf c7" transform="translate(439,1748.9)"><circle r="5"/><text x="7.5" dy=".35em">Cinema</text></g>
<g id="leaf-127" class="lf c7" transform="translate(439,1762.6)"><circle r="5"/><text x="7.5" dy=".35em">Photocopies</text></g>
<g id="leaf-128" class="lf c7" transform="translate(439,1776.4)"><circle r="5"/><text x="7.5" dy=".35em">Engraving</text></g>
<g id="leaf-129" class="lf c7" transform="translate(439,1790.1)"><circle r="5"/><text x="7.5" dy=".35em">Binding and finishing</text></g>
<g id="leaf-130" class="lf c7" transform="translate(439,1803.8)"><circle r="5"/><text x="7.5" dy=".35em">Moving / Storage</text></g>
<g id="leaf-131" class="lf c7" transform="translate(439,1817.5)"><circle r="5"/><text x="7.5" dy=".35em">Travel-tourism agency - Airlines</text></g>
<g id="leaf-132" class="lf c7" transform="translate(439,1831.2)"><circle r="5"/><text x="7.5" dy=".35em">Pôle emploi agency</text></g>
<g id="leaf-133" class="lf c7" transform="translate(439,1844.9)"><circle r="5"/><text x="7.5" dy=".35em">Acting Agency</text></g>
<g id="leaf-134" class="lf c7" transform="translate(439,1858.6)"><circle r="5"/><text x="7.5" dy=".35em">Rapid development - Sale of photo film</text></g>
<g id="leaf-135" class="lf c7" transform="translate(439,1872.4)"><circle r="5"/><text x="7.5" dy=".35em">driving school</text></g>
<g id="leaf-136" class="lf c7" transform="translate(439,1886.1)"><circle r="5"/><text x="7.5" dy=".35em">Funeral directors</text></g>
<g id="leaf-137" class="lf c7" transform="translate(439,1899.8)"><circle r="5"/><text x="7.5" dy=".35em">Pet grooming and equipment</text></g>
<g id="leaf-138" class="lf c7" transform="translate(439,1913.5)"><circle r="5"/><text x="7.5" dy=".35em">IT self-service - Cybercafé</text></g>
<g id="leaf-139" class="lf c7" transform="translate(439,1927.2)"><circle r="5"/><text x="7.5" dy=".35em">Personal services (cleaning, help for the elderly, etc.)</text></g>
<g id="leaf-140" class="lf c8" transform="translate(439,1940.9)"><circle r="5"/><text x="7.5" dy=".35em">Real estate agency</text></g>
<g id="leaf-141" class="lf c8" transform="translate(439,1954.7)"><circle r="5"/><text x="7.5" dy=".35em">Bank - Savings bank</text></g>
<g id="leaf-142" class="lf c8" transform="translate(439,1968.4)"><circle r="5"/><text x="7.5" dy=".35em">ATM machine (not linked to a bank)</text></g>
<g id="leaf-143" class="lf c8" transform="translate(439,1982.1)"><circle r="5"/><text x="7.5" dy=".35em">Insurance</text></g>
<g id="leaf-144" class="lf c8" transform="translate(439,1995.8)"><circle r="5"/><text x="7.5" dy=".35em">Currency exchange</text></g>
<g id="leaf-145" class="lf c8" transform="translate(439,2009.5)"><circle r="5"/><text x="7.5" dy=".35em">Buy - Sell gold</text></g>
<g id="leaf-146" class="lf c8" transform="translate(439,2023.2)"><circle r="5"/><text x="7.5" dy=".35em">Post Office</text></g>
<g id="leaf-147" class="lf c8" transform="translate(439,2037)"><circle r="5"/><text x="7.5" dy=".35em">Shopping and express mail</text></g>
<g id="leaf-148" class="lf c8" transform="translate(439,2050.7)"><circle r="5"/><text x="7.5" dy=".35em">Telecommunications in store</text></g>
<g id="leaf-149" class="lf c9" transform="translate(439,2064.4)"><circle r="5"/><text x="7.5" dy=".35em">Car dealership</text></g>
<g id="leaf-150" class="lf c9" transform="translate(439,2078.1)"><circle r="5"/><text x="7.5" dy=".35em">Auto + Gasoline Dealer</text></g>
<g id="leaf-151" class="lf c9" transform="translate(439,2091.8)"><circle r="5"/><text x="7.5" dy=".35em">Auto + Garage dealership</text></g>
<g id="leaf-152" class="lf c9" transform="translate(439,2105.5)"><circle r="5"/><text x="7.5" dy=".35em">Auto + Gasoline + Garage dealership</text></g>
<g id="leaf-153" class="lf c9" transform="translate(439,2119.3)"><circle r="5"/><text x="7.5" dy=".35em">Motorcycle dealer</text></g>
<g id="leaf-154" class="lf c9" transform="translate(439,2133)"><circle r="5"/><text x="7.5" dy=".35em">Concession + Motorcycle repair</text></g>
<g id="leaf-155" class="lf c9" transform="translate(439,2146.7)"><circle r="5"/><text x="7.5" dy=".35em">Garage</text></g>
<g id="leaf-156" class="lf c9" transform="translate(439,2160.4)"><circle r="5"/><text x="7.5" dy=".35em">Garage + Gasoline sale</text></g>
<g id="leaf-157" class="lf c9" transform="translate(439,2174.1)"><circle r="5"/><text x="7.5" dy=".35em">Sale of automotive equipment</text></g>
<g id="leaf-158" class="lf c9" transform="translate(439,2187.8)"><circle r="5"/><text x="7.5" dy=".35em">Motorcycle repair</text></g>
<g id="leaf-159" class="lf c9" transform="translate(439,2201.5)"><circle r="5"/><text x="7.5" dy=".35em">Gas station</text></g>
<g id="leaf-160" class="lf c9" transform="translate(439,2215.3)"><circle r="5"/><text x="7.5" dy=".35em">Automotive technical control</text></g>
<g id="leaf-161" class="lf c9" transform="translate(439,2229)"><circle r="5"/><text x="7.5" dy=".35em">Motor vehicle rental</text></g>
<g id="leaf-162" class="lf c10" transform="translate(439,2242.7)"><circle r="5"/><text x="7.5" dy=".35em">Traditional french restaurant</text></g>
<g id="leaf-163" class="lf c10" transform="translate(439,2256.4)"><circle r="5"/><text x="7.5" dy=".35em">Caribbean restaurant</text></g>
<g id="leaf-164" class="lf c10" transform="translate(439,2270.1)"><circle r="5"/><text x="7.5" dy=".35em">Asian Restaurant</text></g>
<g id="leaf-165" class="lf c10" transform="translate(439,2283.8)"><circle r="5"/><text x="7.5" dy=".35em">Maghrebian restaurant</text></g>
<g id="leaf-166" class="lf c10" transform="translate(439,2297.6)"><circle r="5"/><text x="7.5" dy=".35em">African restaurant</text></g>
<g id="leaf-167" class="lf c10" transform="translate(439,2311.3)"><circle r="5"/><text x="7.5" dy=".35em">European Restaurant</text></g>
<g id="leaf-168" class="lf c10" transform="translate(439,2325)"><circle r="5"/><text x="7.5" dy=".35em">Central and South American restaurant</text></g>
<g id="leaf-169" class="lf c10" transform="translate(439,2338.7)"><circle r="5"/><text x="7.5" dy=".35em">Indian, Pakistani and Middle Eastern restaurant</text></g>
<g id="leaf-170" class="lf c10" transform="translate(439,2352.4)"><circle r="5"/><text x="7.5" dy=".35em">Another restaurant in the world</text></g>
<g id="leaf-171" class="lf c10" transform="translate(439,2366.1)"><circle r="5"/><text x="7.5" dy=".35em">Brasserie - Continuous catering without tobacco</text></g>
<g id="leaf-172" class="lf c10" transform="translate(439,2379.9)"><circle r="5"/><text x="7.5" dy=".35em">Brasserie - Continuous catering with tobacco</text></g>
<g id="leaf-173" class="lf c10" transform="translate(439,2393.6)"><circle r="5"/><text x="7.5" dy=".35em">Cafeteria</text></g>
<g id="leaf-174" class="lf c10" transform="translate(439,2407.3)"><circle r="5"/><text x="7.5" dy=".35em">Fast food standing</text></g>
<g id="leaf-175" class="lf c10" transform="translate(439,2421)"><circle r="5"/><text x="7.5" dy=".35em">Seated fast food</text></g>
<g id="leaf-176" class="lf c10" transform="translate(439,2434.7)"><circle r="5"/><text x="7.5" dy=".35em">Tea Room</text></g>
<g id="leaf-177" class="lf c10" transform="translate(439,2448.4)"><circle r="5"/><text x="7.5" dy=".35em">Coffee - Tobacco</text></g>
<g id="leaf-178" class="lf c10" transform="translate(439,2462.2)"><circle r="5"/><text x="7.5" dy=".35em">Tobacco-free bar or café</text></g>
<g id="leaf-179" class="lf c10" transform="translate(439,2475.9)"><circle r="5"/><text x="7.5" dy=".35em">Cabaret - Dinner-Show</text></g>
<g id="leaf-180" class="lf c10" transform="translate(439,2489.6)"><circle r="5"/><text x="7.5" dy=".35em">Home delivery food dishes</text></g>
<g id="leaf-181" class="lf c11" transform="translate(439,2503.3)"><circle r="5"/><text x="7.5" dy=".35em">Starless tourist hotel</text></g>
<g id="leaf-182" class="lf c11" transform="translate(439,2517)"><circle r="5"/><text x="7.5" dy=".35em">Tourist hotel with 1 star</text></g>
<g id="leaf-183" class="lf c11" transform="translate(439,2530.7)"><circle r="5"/><text x="7.5" dy=".35em">Tourist hotel with 2 stars</text></g>
<g id="leaf-184" class="lf c11" transform="translate(439,2544.4)"><circle r="5"/><text x="7.5" dy=".35em">Tourist hotel with 3 stars</text></g>
<g id="leaf-185" class="lf c11" transform="translate(439,2558.2)"><circle r="5"/><text x="7.5" dy=".35em">Tourist hotel with 4 stars</text></g>
<g id="leaf-186" class="lf c11" transform="translate(439,2571.9)"><circle r="5"/><text x="7.5" dy=".35em">Tourist hotel with 5 stars</text></g>
<g id="leaf-187" class="lf c11" transform="translate(439,2585.6)"><circle r="5"/><text x="7.5" dy=".35em">Tourist hotel - Palace</text></g>
<g id="leaf-188" class="lf c11" transform="translate(439,2599.3)"><circle r="5"/><text x="7.5" dy=".35em">Rental of apartments (Appart Hotel, Citadines ...)</text></g>
<g id="leaf-189" class="lf c11" transform="translate(439,2613)"><circle r="5"/><text x="7.5" dy=".35em">Youth hostel</text></g>
<g id="leaf-190" class="lf c12" transform="translate(439,2626.7)"><circle r="5"/><text x="7.5" dy=".35em">Vacant premises</text></g>
<g id="leaf-191" class="lf c12" transform="translate(439,2640.5)"><circle r="5"/><text x="7.5" dy=".35em">Premises under construction</text></g>
<g id="leaf-192" class="lf c13" transform="translate(439,2654.2)"><circle r="5"/><text x="7.5" dy=".35em">Food wholesale</text></g>
<g id="leaf-193" class="lf c13" transform="translate(439,2667.9)"><circle r="5"/><text x="7.5" dy=".35em">Wholesale of textile manufacturing</text></g>
<g id="leaf-194" class="lf c13" transform="translate(439,2681.6)"><circle r="5"/><text x="7.5" dy=".35em">Wholesale clothing manufacturing</text></g>
<g id="leaf-195" class="lf c13" transform="translate(439,2695.3)"><circle r="5"/><text x="7.5" dy=".35em">Wholesale of leather goods and shoes</text></g>
<g id="leaf-196" class="lf c13" transform="translate(439,2709)"><circle r="5"/><text x="7.5" dy=".35em">Wholesale jewelry</text></g>
<g id="leaf-197" class="lf c13" transform="translate(439,2722.8)"><circle r="5"/><text x="7.5" dy=".35em">Other wholesale</text></g>
<g id="leaf-198" class="lf c14" transform="translate(439,2736.5)"><circle r="5"/><text x="7.5" dy=".35em">Printing</text></g>
<g id="leaf-199" class="lf c14" transform="translate(439,2750.2)"><circle r="5"/><text x="7.5" dy=".35em">Ancillary services to businesses</text></g>
<g id="leaf-200" class="lf c14" transform="translate(439,2763.9)"><circle r="5"/><text x="7.5" dy=".35em">Photo report studio</text></g>
<g id="leaf-201" class="lf c15" transform="translate(439,2777.6)"><circle r="5"/><text x="7.5" dy=".35em">Doctor's office</text></g>
<g id="leaf-202" class="lf c15" transform="translate(439,2791.3)"><circle r="5"/><text x="7.5" dy=".35em">Radiology center</text></g>
<g id="leaf-203" class="lf c15" transform="translate(439,2805.1)"><circle r="5"/><text x="7.5" dy=".35em">Dental clinic</text></g>
<g id="leaf-204" class="lf c15" transform="translate(439,2818.8)"><circle r="5"/><text x="7.5" dy=".35em">Physiotherapist office</text></g>
<g id="leaf-205" class="lf c15" transform="translate(439,2832.5)"><circle r="5"/><text x="7.5" dy=".35em">Nursing office</text></g>
<g id="leaf-206" class="lf c15" transform="translate(439,2846.2)"><circle r="5"/><text x="7.5" dy=".35em">Other activity of medical assistant - Speech therapist</text></g>
<g id="leaf-207" class="lf c15" transform="translate(439,2859.9)"><circle r="5"/><text x="7.5" dy=".35em">Ambulances</text></g>
<g id="leaf-208" class="lf c15" transform="translate(439,2873.6)"><circle r="5"/><text x="7.5" dy=".35em">Medical analysis laboratory</text></g>
<g id="leaf-209" class="lf c15" transform="translate(439,2887.3)"><circle r="5"/><text x="7.5" dy=".35em">Veterinary</text></g>
<g id="leaf-210" class="lf c16" transform="translate(439,2901.1)"><circle r="5"/><text x="7.5" dy=".35em">Theater</text></g>
<g id="leaf-211" class="lf c16" transform="translate(439,2914.8)"><circle r="5"/><text x="7.5" dy=".35em">Concert hall</text></g>
<g id="leaf-212" class="lf c16" transform="translate(439,2928.5)"><circle r="5"/><text x="7.5" dy=".35em">Other place of performance</text></g>
<g id="leaf-213" class="lf c17" transform="translate(439,2942.2)"><circle r="5"/><text x="7.5" dy=".35em">In-store workshop</text></g>
<g id="leaf-214" class="lf c17" transform="translate(439,2955.9)"><circle r="5"/><text x="7.5" dy=".35em">Shop equipment</text></g>
<g id="leaf-215" class="lf c17" transform="translate(439,2969.6)"><circle r="5"/><text x="7.5" dy=".35em">Store storage</text></g>
<g id="leaf-216" class="lf c17" transform="translate(439,2983.4)"><circle r="5"/><text x="7.5" dy=".35em">Office in store</text></g>
</g>
</svg>
